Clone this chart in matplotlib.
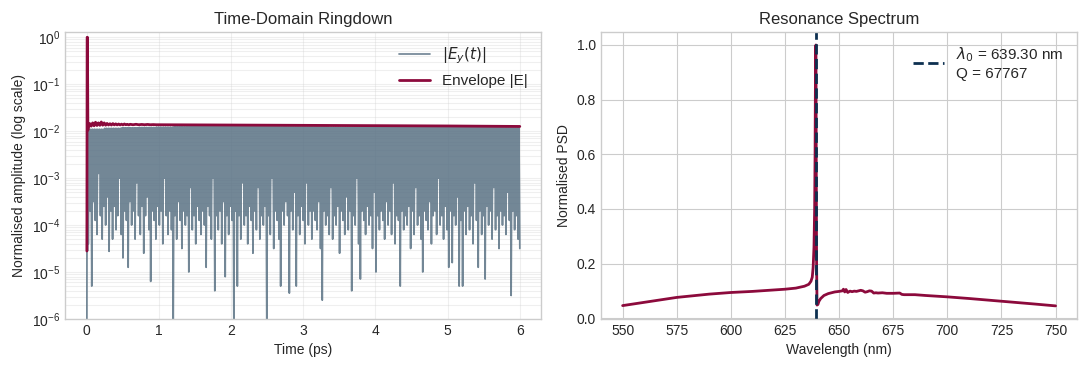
import numpy as np
import matplotlib
matplotlib.use("Agg")
import matplotlib.pyplot as plt

plt.style.use("seaborn-v0_8-whitegrid")
plt.rcParams['font.family'] = ['Liberation Sans', 'DejaVu Sans']

# ---------------- data: time-domain ringdown ----------------
# log10 of |Ey| trough values, one per optical cycle sample (0.02 .. 6 ps)
trough_log10 = [
    -4.4, -3.7, -5.3, -3.5, -3.9, -4.2, -2.9, -3.8, -4.3, -3.6,
    -4.0, -3.4, -4.56, -3.7, -4.3, -3.6, -4.1, -3.8, -3.0, -4.2,
    -4.7, -3.7, -3.9, -4.9, -3.5, -4.0, -3.7, -4.3, -3.1, -3.8,
    -4.2, -3.6, -4.6, -3.8, -3.4, -4.1, -5.2, -3.7, -3.9, -4.3,
    -3.6, -4.0, -3.7, -4.4, -3.0, -3.8, -4.2, -3.7, -4.1, -6.3,
    -3.8, -4.3, -3.5, -3.9, -4.5, -3.7, -4.0, -3.8, -5.0, -3.2,
    -4.1, -3.8, -4.4, -3.6, -3.9, -4.2, -3.7, -4.0, -4.9, -3.6,
    -3.8, -4.3, -3.0, -5.4, -3.8, -4.1, -3.7, -4.4, -3.5, -5.1,
    -3.8, -4.2, -3.6, -3.9, -6.3, -3.7, -5.3, -3.8, -4.3, -3.1,
    -4.0, -3.8, -4.4, -3.6, -3.9, -4.6, -3.7, -4.1, -3.2, -4.3,
    -3.8, -4.0, -3.6, -6.3, -3.8, -4.2, -3.0, -4.5, -3.7, -3.9,
    -4.3, -5.3, -3.7, -4.0, -3.5, -3.8, -5.45, -3.7, -4.1, -3.3,
    -5.3, -3.8, -4.2, -3.6, -3.9, -4.4, -3.1, -4.0, -3.7, -4.3,
    -3.7, -3.9, -4.1, -3.5, -4.5, -5.6, -3.7, -4.0, -3.8, -4.2,
    -3.2, -4.3, -3.8, -4.0, -3.6, -4.6, -3.7, -3.9, -4.2, -3.4,
    -4.1, -3.7, -5.4, -3.8, -4.0, -3.0, -4.4, -5.15, -3.7, -3.9,
    -4.2, -3.6, -4.0, -3.8, -4.5, -3.3, -5.0, -3.8, -4.1, -3.7,
    -3.9, -4.3, -3.5, -4.0, -3.7, -4.2, -3.1, -4.4, -3.8, -3.9,
    -5.3, -3.7, -4.1, -3.8, -4.0, -3.6, -4.5, -3.7, -4.2, -3.2,
    -4.0, -3.8, -4.3, -5.0, -3.7, -3.9, -4.1, -3.5, -4.4, -3.8,
    -3.7, -4.2, -3.0, -4.0, -3.8, -4.3, -3.6, -4.1, -4.9, -3.7,
    -4.8, -3.8, -4.0, -3.4, -5.3, -3.9, -5.3, -3.7, -4.2, -3.6,
    -4.1, -3.8, -4.4, -3.1, -3.9, -4.9, -3.7, -4.2, -3.8, -5.15,
    -3.6, -4.0, -3.7, -4.3, -3.2, -4.1, -3.8, -4.5, -3.7, -4.0,
    -3.8, -4.2, -3.3, -3.9, -5.5, -3.7, -4.1, -3.8, -4.3, -4.5,
]
# |Ey| crest level, one value per block of 10 cycles
crest_level = [0.0110, 0.0115, 0.0118, 0.0120, 0.0122, 0.0124, 0.0125, 0.0125,
               0.0125, 0.0125, 0.0125, 0.0124, 0.0124, 0.0124, 0.0123, 0.0123,
               0.0122, 0.0122, 0.0121, 0.0121, 0.0120, 0.0120, 0.0119, 0.0119,
               0.0118]
# excitation pulse at the start
pulse_t = [0.000, 0.004, 0.008]
pulse_v = [1.0e-6, 1.0, 2.8e-5]

# envelope |E|
env_t = [0.000, 0.001, 0.004, 0.008, 0.014,
         0.02, 0.04, 0.06, 0.08, 0.10, 0.12, 0.14, 0.16, 0.18, 0.20,
         0.22, 0.24, 0.26, 0.28, 0.30, 0.32, 0.34, 0.36, 0.38, 0.40,
         0.42, 0.44, 0.46, 0.48, 0.50, 0.52, 0.54, 0.56, 0.58, 0.60,
         0.64, 0.68, 0.72, 0.76, 0.80, 0.84, 0.88, 0.92, 0.96, 1.00,
         1.5, 2.0, 3.0, 4.0, 5.0, 6.0]
env_v = [2.8e-5, 1.5e-4, 1.0, 1.0, 1.05e-2,
         1.22e-2, 1.45e-2, 1.28e-2, 1.50e-2, 1.30e-2, 1.55e-2, 1.32e-2, 1.50e-2, 1.33e-2, 1.57e-2,
         1.34e-2, 1.50e-2, 1.34e-2, 1.46e-2, 1.35e-2, 1.44e-2, 1.35e-2, 1.45e-2, 1.36e-2, 1.43e-2,
         1.36e-2, 1.42e-2, 1.36e-2, 1.41e-2, 1.36e-2, 1.42e-2, 1.37e-2, 1.40e-2, 1.36e-2, 1.40e-2,
         1.37e-2, 1.40e-2, 1.37e-2, 1.39e-2, 1.37e-2, 1.39e-2, 1.37e-2, 1.38e-2, 1.37e-2, 1.37e-2,
         1.36e-2, 1.35e-2, 1.33e-2, 1.31e-2, 1.29e-2, 1.26e-2]

# ---------------- data: resonance spectrum ----------------
wl_nm = [550, 560, 575, 590, 600, 610, 625, 630, 634, 636, 637, 637.6, 638.0,
         638.4, 638.7, 638.9, 639.05, 639.15, 639.3, 639.45, 639.6, 639.8,
         640.2, 640.7, 641.5, 643, 645, 648, 650, 651.5, 652, 652.6, 653.2,
         654, 655, 656, 657, 658, 660, 661, 662, 663, 664, 665, 666, 667,
         668, 670, 672, 675, 678, 679, 680, 685, 690, 700, 710, 725, 740, 750]
psd = [0.046, 0.058, 0.076, 0.088, 0.094, 0.098, 0.106, 0.110, 0.117, 0.124,
       0.135, 0.150, 0.185, 0.26, 0.40, 0.60, 0.85, 0.99, 1.0, 0.55, 0.20,
       0.048, 0.050, 0.062, 0.072, 0.083, 0.090, 0.096, 0.098, 0.100, 0.106,
       0.096, 0.105, 0.094, 0.099, 0.097, 0.099, 0.098, 0.102, 0.100, 0.095,
       0.097, 0.100, 0.099, 0.092, 0.093, 0.092, 0.093, 0.091, 0.091, 0.092,
       0.087, 0.086, 0.086, 0.083, 0.078, 0.072, 0.062, 0.052, 0.045]
lambda0 = 639.30
q_factor = 67767

# ---------------- build |Ey| trace ----------------
n = len(trough_log10)
t_trough = np.linspace(0.02, 6.0, n)
dt = t_trough[1] - t_trough[0]
sig_t = list(pulse_t)
sig_v = list(pulse_v)
for i in range(n):
    sig_t.append(t_trough[i] - dt / 2)
    sig_v.append(crest_level[i // 10])
    sig_t.append(t_trough[i])
    sig_v.append(10.0 ** trough_log10[i])

crimson = '#8c0a3c'
slate = '#5a7284'
navy = '#0d3050'

fig, (ax1, ax2) = plt.subplots(1, 2, figsize=(10.87, 3.67), dpi=100)
fig.subplots_adjust(left=0.060, right=0.991, bottom=0.131, top=0.913, wspace=0.125)

ax1.plot(sig_t, sig_v, color=slate, lw=1.25, alpha=0.85, label=r'$|E_y(t)|$')
ax1.plot(env_t, env_v, color=crimson, lw=2.0, label='Envelope |E|')
ax1.set_yscale('log')
ax1.set_ylim(1e-6, 1.3)
ax1.set_xlim(-0.3, 6.3)
ax1.grid(True, which='both', alpha=0.3)
ax1.set_xlabel('Time (ps)')
ax1.set_ylabel('Normalised amplitude (log scale)')
ax1.set_title('Time-Domain Ringdown')
ax1.legend(loc='upper right', fontsize=11)

ax2.plot(wl_nm, psd, color=crimson, lw=2.0)
ax2.axvline(lambda0, color=navy, ls='--', lw=2.0,
            label=f'$\\lambda_0$ = {lambda0:.2f} nm\nQ = {q_factor}')
ax2.set_xlabel('Wavelength (nm)')
ax2.set_ylabel('Normalised PSD')
ax2.set_title('Resonance Spectrum')
ax2.legend(loc='upper right', fontsize=11)

fig.savefig('out.png', dpi=100)
